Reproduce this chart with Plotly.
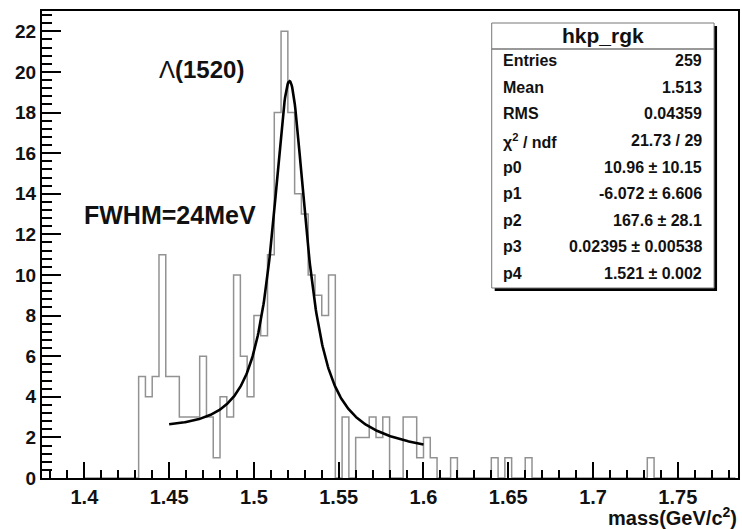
import numpy as np
import plotly.graph_objects as go

# ---------------- data ----------------
bin_start = 1.400
bin_width = 0.004
counts = [
    0, 0, 0, 0, 0, 0, 0, 0,          # 1.400 - 1.432
    5, 4, 5, 11, 5, 5, 3, 3, 3, 6,   # 1.432 - 1.472
    3, 1, 4, 3, 10, 6, 4, 8, 7, 11,  # 1.472 - 1.512
    18, 22, 18, 14, 13, 10, 9, 8, 10,  # 1.512 - 1.548
    0, 3, 0, 2, 2, 3, 2, 3, 0, 0,    # 1.548 - 1.588
    3, 3, 1, 2, 1, 0, 0, 1, 0, 0,    # 1.588 - 1.628
    0, 0, 0, 1, 0, 1, 0, 0, 1, 0,    # 1.628 - 1.668
    0, 0, 0, 0, 0, 0, 0, 0, 0, 0,    # 1.668 - 1.708
    0, 0, 0, 0, 0, 0, 1, 0, 0, 0,    # 1.708 - 1.748
    0, 0, 0, 0, 0, 0, 0, 0, 0,       # 1.748 - 1.784
]

# fit: pol1 + Breit-Wigner (parameters from the stats box)
p0, p1, p2, p3, p4 = 10.96, -6.072, 167.6, 0.02395, 1.521
fit_lo, fit_hi = 1.45, 1.60

stat_labels = ["Entries", "Mean", "RMS", "χ<sup>2</sup> / ndf", "p0", "p1", "p2", "p3", "p4"]
stat_values = ["259", "1.513", "0.04359", "21.73 / 29", "10.96 ± 10.15", "-6.072 ± 6.606",
               "167.6 ± 28.1", "0.02395 ± 0.00538", "1.521 ± 0.002"]
stat_title = "hkp_rgk"

# ---------------- geometry ----------------
W, H = 742, 529
ML, MR, MT, MB = 42, 2, 11, 51
PW, PH = W - ML - MR, H - MT - MB


def xp(px):
    return (px - ML) / PW


def yp(py):
    return (H - MB - py) / PH


FONT = "Liberation Sans"

# histogram outline (step)
edges = [bin_start + i * bin_width for i in range(len(counts) + 1)]
hx = edges
hy = counts + [counts[-1]]

# fit curve
xf = np.linspace(fit_lo, fit_hi, 400)
bw = (p3 / (2 * np.pi)) / ((xf - p4) ** 2 + p3 ** 2 / 4)
yf = p0 + p1 * xf + p2 * bin_width * bw

fig = go.Figure()
fig.add_trace(go.Scatter(x=hx, y=hy, mode="lines", line=dict(shape="hv", color="#929292", width=1.5),
                         hoverinfo="skip", showlegend=False))
fig.add_trace(go.Scatter(x=xf, y=yf, mode="lines", line=dict(color="black", width=2.6),
                         hoverinfo="skip", showlegend=False))

axis_common = dict(showgrid=False, zeroline=False, showline=True, mirror=True, linecolor="black",
                   linewidth=2, ticks="inside", tickcolor="black", tickwidth=2)

fig.update_xaxes(range=[1.375, 1.7855], tick0=1.4, dtick=0.05, ticklen=16,
                 tickfont=dict(family=FONT, size=20, color="#111", weight="bold"),
                 minor=dict(dtick=0.01, ticks="inside", ticklen=8, tickwidth=2, tickcolor="black"),
                 **axis_common)
fig.update_yaxes(range=[0, 23.0], tick0=0, dtick=2, ticklen=19,
                 tickfont=dict(family=FONT, size=19, color="#111", weight="bold"),
                 minor=dict(dtick=0.4, ticks="inside", ticklen=10, tickwidth=2, tickcolor="black"),
                 **axis_common)

shapes = []
annotations = []
# stats box shadow + box
bx0, bx1, by0, by1 = 493, 716, 23, 288
shapes.append(dict(type="rect", xref="paper", yref="paper", x0=xp(bx0 + 3), x1=xp(bx1 + 3),
                   y0=yp(by1 + 3), y1=yp(by0 + 3), fillcolor="black", line=dict(width=0), layer="above"))
shapes.append(dict(type="rect", xref="paper", yref="paper", x0=xp(bx0), x1=xp(bx1),
                   y0=yp(by1), y1=yp(by0), fillcolor="white", line=dict(color="#777", width=1), layer="above"))
shapes.append(dict(type="line", xref="paper", yref="paper", x0=xp(bx0), x1=xp(bx1),
                   y0=yp(49), y1=yp(49), line=dict(color="#777", width=1.5), layer="above"))

annotations.append(dict(xref="paper", yref="paper", x=xp((bx0 + bx1) / 2), y=yp(36), text=stat_title,
                        showarrow=False, xanchor="center", yanchor="middle",
                        font=dict(family=FONT, size=21, color="#111", weight="bold")))
row_y0, row_dy = 60.7, 26.6
for i, (lab, val) in enumerate(zip(stat_labels, stat_values)):
    y = yp(row_y0 + i * row_dy)
    annotations.append(dict(xref="paper", yref="paper", x=xp(502), y=y, text=lab, showarrow=False,
                            xanchor="left", yanchor="middle",
                            font=dict(family=FONT, size=16, color="#111", weight="bold")))
    annotations.append(dict(xref="paper", yref="paper", x=xp(706), y=y, text=val, showarrow=False,
                            xanchor="right", yanchor="middle",
                            font=dict(family=FONT, size=16, color="#111", weight="bold")))

# in-plot labels
annotations.append(dict(xref="paper", yref="paper", x=xp(157), y=yp(70), text="Λ<b>(1520)</b>",
                        showarrow=False, xanchor="left", yanchor="middle",
                        font=dict(family=FONT, size=24, color="#111")))
annotations.append(dict(xref="paper", yref="paper", x=xp(82), y=yp(215), text="FWHM=24MeV",
                        showarrow=False, xanchor="left", yanchor="middle",
                        font=dict(family=FONT, size=25, color="#111", weight="bold")))
# x axis title
annotations.append(dict(xref="paper", yref="paper", x=xp(741), y=yp(516), text="mass(GeV/c<sup>2</sup>)",
                        showarrow=False, xanchor="right", yanchor="middle",
                        font=dict(family=FONT, size=20, color="#111", weight="bold")))

fig.update_layout(width=W, height=H, margin=dict(l=ML, r=MR, t=MT, b=MB, pad=0),
                  paper_bgcolor="white", plot_bgcolor="white", shapes=shapes, annotations=annotations,
                  showlegend=False)

fig.write_html("out.html")
